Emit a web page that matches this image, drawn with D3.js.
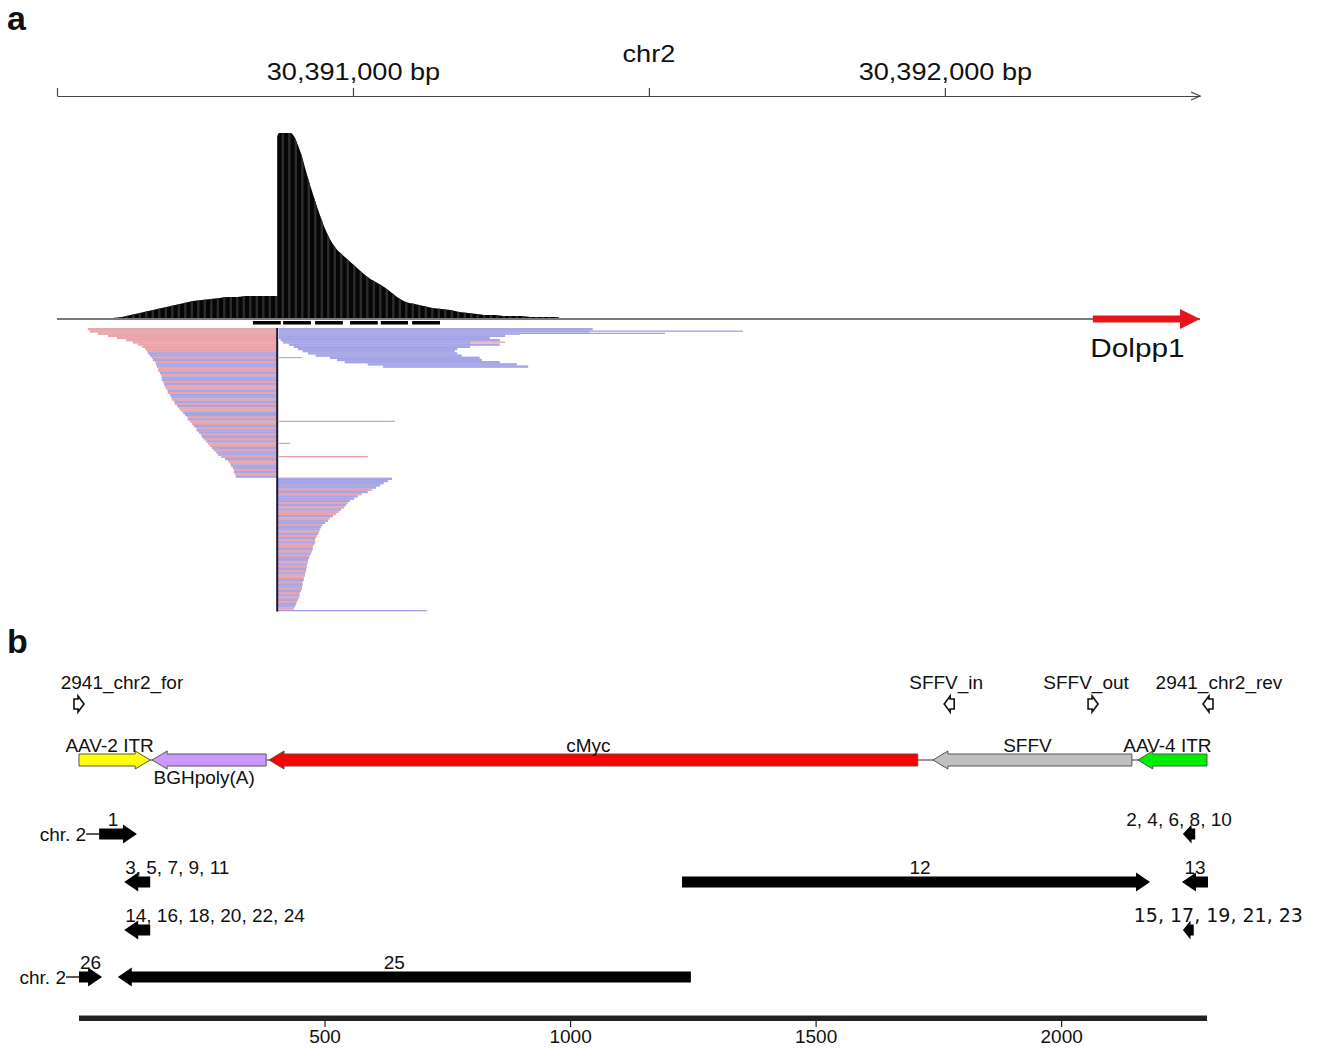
<!DOCTYPE html>
<html>
<head>
<meta charset="utf-8">
<script src="https://cdn.jsdelivr.net/npm/d3@7/dist/d3.min.js"></script>
<style>
  body { margin: 0; background: #fff; }
  svg { display: block; }
  text { font-family: "Liberation Sans", Arial, sans-serif; fill: #111; }
</style>
</head>
<body>
<svg id="fig" width="1323" height="1050"></svg>
<script>
/* ---------- panel a : genome browser view ---------- */
const chromName = "chr2"
const viewStart = 30390500, viewEnd = 30392431
const axisTicks = [30390500, 30391000, 30391500, 30392000]
const labelledTicks = [30391000, 30392000]
const junction = 30390872

// coverage, 15 bp bins starting at covStart
const covStart = 30390572, covBin = 15
const covDepth = [0.5, 1, 2, 4, 6, 8, 10, 12, 14, 16, 18, 19, 20, 21, 22, 22, 23, 23, 23, 23,
  186, 186, 170, 140, 112, 88, 72, 63, 55, 47, 40, 35, 29, 22, 17, 15, 13, 11, 10, 9,
  7, 6, 5, 4, 4, 3, 3, 3, 2, 2, 2, 2]

// black dashes under the coverage track (offsets from viewStart)
const dashStarts = [331, 382, 436, 495, 547, 600]
const dashEnds   = [378, 429, 483, 542, 593, 647]

// reads ending at the junction (offset of their left end), one per row
const leftReadStarts = [52, 56, 69, 86, 101, 117, 128, 137, 144, 149, 152, 154, 157, 160, 162, 166, 167, 169, 171, 171,
  174, 176, 177, 177, 179, 181, 182, 184, 187, 187, 191, 193, 194, 198, 199, 203, 206, 209, 213, 216,
  220, 221, 225, 228, 231, 235, 236, 240, 243, 245, 248, 252, 255, 258, 262, 265, 269, 272, 277, 284,
  289, 292, 294, 297, 299, 299, 301, 302]
const leftStrand = "++++++++++" + "+--+-+--++" + "-+--+-++-+" + "--+-+-++--" + "+-++-+--+-" + "+-++-+--+-" + "++--+-+-"

// reads starting right of the junction, upper rows
const topReadStarts = [375, 375, 375, 375, 375, 378, 382, 392, 400, 407, 415, 424, 437, 461, 473, 486, 525, 551]
const topReadEnds   = [905, 900, 782, 757, 731, 748, 698, 748, 698, 676, 672, 676, 684, 714, 718, 748, 777, 796]

// reads starting at the junction, lower rows (offset of right end)
const lowReadEnds = [566, 559, 552, 546, 539, 532, 525, 515, 508, 502, 495, 491, 488, 485, 480, 476, 471, 466, 461, 458,
  453, 449, 446, 444, 443, 441, 439, 437, 436, 436, 434, 432, 432, 431, 429, 427, 426, 424, 424, 422,
  422, 421, 421, 419, 419, 417, 417, 415, 415, 414, 414, 412, 410, 410, 409, 407, 405, 404, 402, 400]
const lowStrand = "-----+-+--" + "-+-+-++-+-" + "-+--+-+-+-" + "++-+-+--+-" + "+-+-++-+--" + "+-+-+-+--+"

// thin connector lines
const linkRows   = [1, 2, 6, 13, 42, 52, 58, 128]
const linkStarts = [900, 782, 698, 375, 375, 375, 375, 372]
const linkEnds   = [1159, 1027, 757, 414, 571, 394, 525, 625]
const linkStrand = "--+++++-"

const geneNames = ["Dolpp1"]
const geneStarts = [30392250], geneEnds = [30392431]

/* ---------- panel b : vector map ---------- */
const plasmidLength = 2297
const featNames   = ["AAV-2 ITR", "BGHpoly(A)", "cMyc", "SFFV", "AAV-4 ITR"]
const featStarts  = [0, 149, 387, 1739, 2156]
const featEnds    = [145, 381, 1708, 2144, 2297]
const featStrands = [1, -1, -1, -1, -1]

const primerNames   = ["2941_chr2_for", "SFFV_in", "SFFV_out", "2941_chr2_rev"]
const primerPos     = [0, 1772, 2065, 2299]
const primerStrands = [1, -1, 1, -1]

const fragLabels  = ["1", "2, 4, 6, 8, 10", "3, 5, 7, 9, 11", "12", "13",
                     "14, 16, 18, 20, 22, 24", "15, 17, 19, 21, 23", "26", "25"]
const fragStarts  = [41, 2248, 92, 1228, 2246, 92, 2248, 0, 79]
const fragEnds    = [118, 2273, 145, 2181, 2299, 145, 2270, 47, 1246]
const fragStrands = [1, -1, -1, 1, -1, -1, -1, 1, -1]
const fragRows    = [0, 0, 1, 1, 1, 2, 2, 3, 3]
const fragFlank   = ["chr. 2", "", "", "", "", "", "", "chr. 2", ""]
const scaleTicks  = [500, 1000, 1500, 2000]

/* ================= drawing ================= */
const svg = d3.select('#fig')
svg.append('rect').attr('width', 1323).attr('height', 1050).attr('fill', '#fff')

const stretch = 1.18
const colPlus = '#e79da4', colMinus = '#9d9de6'

/* panel letters */
svg.append('text').attr('x', 7).attr('y', 30).attr('font-size', 34).attr('font-weight', 'bold').text('a')
svg.append('text').attr('x', 7).attr('y', 653).attr('font-size', 34).attr('font-weight', 'bold').text('b')

/* ---- panel a ---- */
const gx = d3.scaleLinear().domain([viewStart, viewEnd]).range([57, 1200])
const off = o => gx(viewStart + o)

const axisG = svg.append('g').attr('transform', 'translate(0,96)')
  .call(d3.axisTop(gx).tickValues(axisTicks).tickSize(8).tickSizeOuter(0)
    .tickFormat(d => labelledTicks.includes(d) ? d3.format(',')(d) + ' bp' : ''))
axisG.select('.domain').attr('stroke', '#444').attr('stroke-width', 1.2)
axisG.selectAll('.tick line').attr('stroke', '#444').attr('stroke-width', 1.2)
axisG.selectAll('.tick text')
  .attr('y', -16).attr('dy', 0)
  .attr('font-size', 23)
  .attr('fill', '#222').attr('transform', `scale(${stretch},1)`)
// arrow tip on the axis
svg.append('path').attr('d', `M${gx(viewEnd) - 9},92L${gx(viewEnd)},96L${gx(viewEnd) - 9},100`)
  .attr('fill', 'none').attr('stroke', '#444').attr('stroke-width', 1.2)

svg.append('text').attr('transform', `translate(${gx(30391500)},62) scale(${stretch},1)`)
  .attr('text-anchor', 'middle').attr('font-size', 23).attr('fill', '#222').text(chromName)

// coverage : smooth silhouette with the step at the junction, striped like the browser bars
const cy = d3.scaleLinear().domain([0, 200]).range([319, 119])
const covPts = covDepth.map((d, i) => [covStart + (i + 0.5) * covBin, d])
const leftIdx = covPts.filter(p => p[0] < junction)
const rightIdx = covPts.filter(p => p[0] > junction)
const leftPts = [[covStart, 0], ...leftIdx, [junction, leftIdx[leftIdx.length - 1][1]]]
const rightPts = [[junction, rightIdx[0][1] - 4], [junction + 3, rightIdx[0][1]], ...rightIdx,
  [covStart + covDepth.length * covBin, 0]]
const covArea = d3.area().x(p => gx(p[0])).y0(cy(0)).y1(p => cy(p[1])).curve(d3.curveMonotoneX)

const defs = svg.append('defs')
const clip = defs.append('clipPath').attr('id', 'covClip')
clip.append('path').attr('d', covArea(leftPts))
clip.append('path').attr('d', covArea(rightPts))

const covG = svg.append('g').attr('clip-path', 'url(#covClip)')
covG.append('rect').attr('x', gx(covStart)).attr('width', gx(viewEnd) - gx(covStart))
  .attr('y', cy(200)).attr('height', cy(0) - cy(200)).attr('fill', '#060606')
const stripeX = d3.range(gx(covStart), gx(covStart + covDepth.length * covBin), 6.5)
covG.selectAll('rect.stripe').data(stripeX).join('rect').attr('class', 'stripe')
  .attr('x', d => d).attr('width', 2.4).attr('y', cy(200)).attr('height', cy(0) - cy(200))
  .attr('fill', '#2c2c2c')

// baseline
svg.append('line').attr('x1', gx(viewStart)).attr('x2', gx(viewEnd)).attr('y1', 319).attr('y2', 319)
  .attr('stroke', '#7a7a7a').attr('stroke-width', 2)

// dashes
svg.append('g').selectAll('rect').data(dashStarts).join('rect')
  .attr('x', d => off(d)).attr('width', (d, i) => off(dashEnds[i]) - off(d))
  .attr('y', 321).attr('height', 3.5).attr('fill', '#000')

// reads
const rowY = r => 328 + r * 2.2
const reads = []
leftReadStarts.forEach((s, i) => reads.push({row: i, x0: off(s), x1: gx(junction), strand: leftStrand[i] || '+'}))
topReadStarts.forEach((s, i) => reads.push({row: i, x0: off(s), x1: off(topReadEnds[i]), strand: '-'}))
const lowRow0 = leftReadStarts.length
lowReadEnds.forEach((e, i) => reads.push({row: lowRow0 + i, x0: gx(junction), x1: off(e), strand: lowStrand[i] || '-'}))

const readG = svg.append('g')
readG.selectAll('line.link').data(linkRows).join('line').attr('class', 'link')
  .attr('x1', (d, i) => off(linkStarts[i])).attr('x2', (d, i) => off(linkEnds[i]))
  .attr('y1', d => rowY(d) + 1).attr('y2', d => rowY(d) + 1)
  .attr('stroke', (d, i) => linkStrand[i] === '+' ? colPlus : colMinus).attr('stroke-width', 1.2)
readG.selectAll('rect').data(reads).join('rect')
  .attr('x', d => d.x0).attr('width', d => d.x1 - d.x0)
  .attr('y', d => rowY(d.row)).attr('height', 2.4)
  .attr('fill', d => d.strand === '+' ? colPlus : colMinus).attr('opacity', 0.92)

// junction line
svg.append('line').attr('x1', gx(junction)).attr('x2', gx(junction))
  .attr('y1', rowY(0)).attr('y2', rowY(linkRows[linkRows.length - 1]) + 2)
  .attr('stroke', '#1a1a3a').attr('stroke-width', 2)

// gene
geneNames.forEach((name, i) => {
  const x0 = gx(geneStarts[i]), x1 = gx(geneEnds[i])
  svg.append('path')
    .attr('d', `M${x0},315.5H${x1 - 20}V309L${x1},319L${x1 - 20},329V322.5H${x0}Z`)
    .attr('fill', '#e8141b')
  svg.append('text').attr('transform', `translate(${(x0 + x1) / 2 - 9},357) scale(1.19,1)`)
    .attr('text-anchor', 'middle').attr('font-size', 25).attr('fill', '#222').text(name)
})

/* ---- panel b ---- */
const bx = d3.scaleLinear().domain([0, plasmidLength]).range([79, 1207])

function arrowPath(x0, x1, y, dir, bh, hh, hl) {
  hl = Math.min(hl, (x1 - x0) * 0.7)
  if (dir > 0) {
    const xb = x1 - hl
    return `M${x0},${y - bh / 2}H${xb}V${y - hh / 2}L${x1},${y}L${xb},${y + hh / 2}V${y + bh / 2}H${x0}Z`
  }
  const xb = x0 + hl
  return `M${x1},${y - bh / 2}H${xb}V${y - hh / 2}L${x0},${y}L${xb},${y + hh / 2}V${y + bh / 2}H${x1}Z`
}

// primers
const primerNudge = {"2941_chr2_for": 43, "SFFV_in": -3, "SFFV_out": -7, "2941_chr2_rev": 11}
const pg = svg.append('g')
primerNames.forEach((n, i) => {
  const cx = bx(primerPos[i])
  pg.append('path').attr('d', arrowPath(cx - 5, cx + 5, 704, primerStrands[i], 10, 16, 6))
    .attr('fill', '#fff').attr('stroke', '#111').attr('stroke-width', 1.6)
  pg.append('text').attr('x', cx + primerNudge[n]).attr('y', 689)
    .attr('text-anchor', 'middle').attr('font-size', 19).text(n)
})

// backbone + features
const featFill = {"AAV-2 ITR": '#ffff00', "BGHpoly(A)": '#cc99ff', "cMyc": '#ff0000', "SFFV": '#c0c0c0', "AAV-4 ITR": '#00ee00'}
const featBelow = {"BGHpoly(A)": true}
svg.append('line').attr('x1', bx(0)).attr('x2', bx(plasmidLength)).attr('y1', 760).attr('y2', 760)
  .attr('stroke', '#333').attr('stroke-width', 1.2)
const fg = svg.append('g')
featNames.forEach((n, i) => {
  const x0 = bx(featStarts[i]), x1 = bx(featEnds[i])
  fg.append('path').attr('d', arrowPath(x0, x1, 760, featStrands[i], 12, 18, 15))
    .attr('fill', featFill[n]).attr('stroke', '#555').attr('stroke-width', 1)
})
featNames.forEach((n, i) => {
  const x0 = bx(featStarts[i]), x1 = bx(featEnds[i])
  fg.append('text').attr('x', (x0 + x1) / 2 - 5).attr('y', featBelow[n] ? 784 : 752)
    .attr('text-anchor', 'middle').attr('font-size', 19).text(n)
})

// sequenced fragments
const rowYs = [834, 882, 930, 977]
const fragNudge = {"1": -5, "2, 4, 6, 8, 10": -10, "12": 4, "25": -10, "15, 17, 19, 21, 23": 30}
const fragStartAnchor = {"3, 5, 7, 9, 11": true, "14, 16, 18, 20, 22, 24": true}
const frg = svg.append('g')
fragLabels.forEach((lab, i) => {
  const x0 = bx(fragStarts[i]), x1 = bx(fragEnds[i]), y = rowYs[fragRows[i]]
  frg.append('path').attr('d', arrowPath(x0, x1, y, fragStrands[i], 11, 19, 14)).attr('fill', '#000')
  const t = frg.append('text').attr('y', y - 8).attr('font-size', 19).text(lab)
  if (fragStartAnchor[lab]) t.attr('x', x0 + 1).attr('text-anchor', 'start')
  else t.attr('x', (x0 + x1) / 2 + (fragNudge[lab] || 0)).attr('text-anchor', 'middle')
  if (lab.startsWith('15')) t.style('font-family', '"DejaVu Sans", Verdana, sans-serif')
  if (fragFlank[i]) {
    frg.append('line').attr('x1', x0 - 13).attr('x2', x0).attr('y1', y).attr('y2', y)
      .attr('stroke', '#000').attr('stroke-width', 1.3)
    frg.append('text').attr('x', x0 - 13).attr('y', y + 7).attr('text-anchor', 'end')
      .attr('font-size', 19).text(fragFlank[i])
  }
})

// scale bar
svg.append('rect').attr('x', bx(0)).attr('width', bx(plasmidLength) - bx(0))
  .attr('y', 1015.5).attr('height', 5.5).attr('fill', '#222')
const sg = svg.append('g').attr('transform', 'translate(0,1021)')
  .call(d3.axisBottom(bx).tickValues(scaleTicks).tickSize(6).tickSizeOuter(0).tickFormat(d3.format('d')))
sg.select('.domain').remove()
sg.selectAll('.tick line').attr('stroke', '#222').attr('stroke-width', 1.2)
sg.selectAll('.tick text').attr('y', 22).attr('dy', 0).attr('font-size', 19).attr('fill', '#111')
</script>
</body>
</html>
